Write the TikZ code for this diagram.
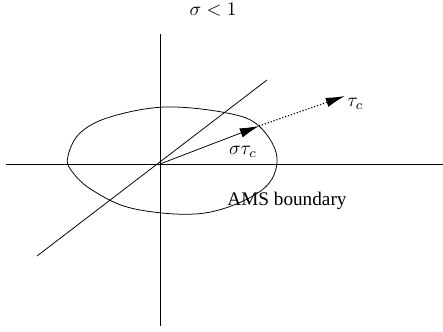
\documentclass[tikz,border=0pt]{standalone}
\usepackage{fontspec}
\setmainfont{Liberation Serif}
\usetikzlibrary{arrows.meta, positioning}

\begin{document}
\begin{tikzpicture}[x=0.52pt,y=0.52pt,
          vec/.style={-{Latex[length=10pt,width=5pt]}},
          lbl/.style={inner sep=1pt,font=\normalsize}]
        \useasboundingbox (-160,164) rectangle (283,-167);
        \coordinate (O) at (0,0);
        \coordinate (P) at (99,38);
        \coordinate (T) at (185,68);
        % axes and the oblique line
        \draw (-154,0) -- (283,0);
        \draw (0,130) -- (0,-162);
        \draw (-123,-92) -- (107,84);
        % boundary curve
        \draw plot[smooth cycle,tension=0.6] coordinates {
          (-92,8) (-80,31) (-50,47) (5,57) (67,51) (99,38) (117,6)
          (102,-26) (45,-49) (-25,-45) (-68,-26) (-89,-6)};
        \draw[vec] (O) -- (P);
        \draw[vec,densely dotted,semithick] (P) -- (T);
        \node[lbl] (title) at (53,154) {$\sigma < 1$};
        \node[lbl,right=0pt of T,yshift=-4pt] (tc) {$\tau_c$};
        \node[lbl] (stc) at (83,12) {$\sigma\tau_c$};
        \node[lbl] (ams) at (127,-37) {AMS boundary};
      \end{tikzpicture}
\end{document}
